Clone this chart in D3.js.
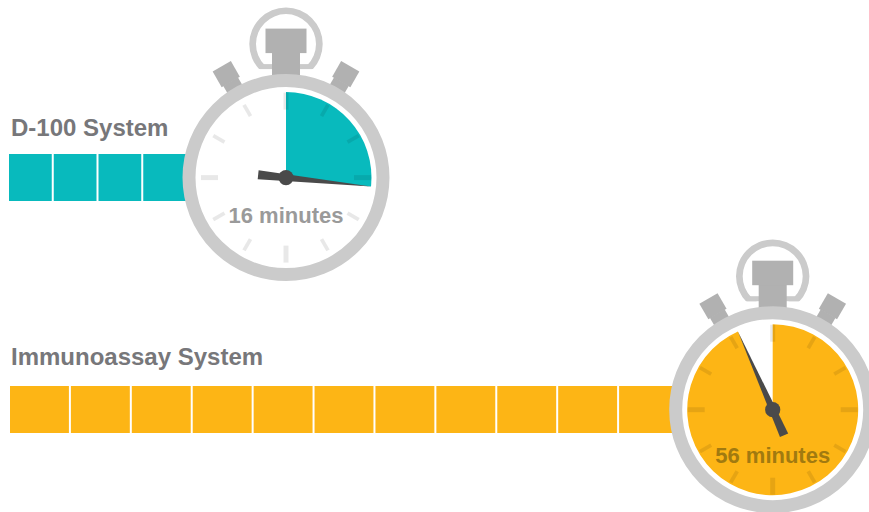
<!DOCTYPE html>
<html>
<head>
<meta charset="utf-8">
<script src="https://cdn.jsdelivr.net/npm/d3@7"></script>
<style>
	html, body { margin: 0; padding: 0; background: #fff; }
	svg { display: block; }
	text { font-family: "Liberation Sans", Arial, sans-serif; font-weight: bold; }
</style>
</head>
<body>
<svg id="chart" width="869" height="512"></svg>
<script>
// values
const systems = ["D-100 System", "Immunoassay System"];
const minutes = [16, 56];
const blockCounts = [4, 11];
const minuteLabels = ["16 minutes", "56 minutes"];
const fillColors = ["#08babd", "#fdb515"];
const labelColors = ["#9a9a9a", "#a17a10"];

// layout per row
const rows = [
	{ textX: 11, textY: 136, barX: [9, 188], barY: 154, barH: 47, cx: 286, cy: 177.6, labelDy: 45.5 },
	{ textX: 11, textY: 365, barX: [10, 680], barY: 386, barH: 47, cx: 772.7, cy: 409.7, labelDy: 53.5 }
];

const svg = d3.select("#chart");
const RING = "#cbcbcb", STEEL = "#b1b1b1", HAND = "#4a4a4a";

// minutes round the dial
const angle = d3.scaleLinear().domain([0, 60]).range([0, 2 * Math.PI]);
const degrees = m => angle(m) * 180 / Math.PI;

const wedge = d3.arc().innerRadius(0).outerRadius(85.5).startAngle(0);
const ringArc = d3.arc().innerRadius(30).outerRadius(36.7).startAngle(0).endAngle(2 * Math.PI);
const outline = d3.line();

systems.forEach((name, i) => {
	const row = rows[i];

	svg.append("text")
		.attr("x", row.textX)
		.attr("y", row.textY)
		.attr("font-size", 24)
		.attr("fill", "#77777a")
		.text(name);

	// bar of blocks, runs in under the watch
	const x = d3.scaleLinear().domain([0, blockCounts[i]]).range(row.barX);
	svg.append("g").selectAll("rect")
		.data(d3.range(blockCounts[i]))
		.enter()
		.append("rect")
		.attr("x", d => x(d))
		.attr("y", row.barY)
		.attr("width", d => x(d + 1) - x(d) - 2)
		.attr("height", row.barH)
		.attr("fill", fillColors[i]);

	const watch = svg.append("g").attr("transform", `translate(${row.cx}, ${row.cy})`);

	// side buttons
	[-30, 30].forEach(r => {
		const b = watch.append("g").attr("transform", `rotate(${r})`).attr("fill", STEEL);
		b.append("rect").attr("x", -10.5).attr("y", -128.5).attr("width", 21).attr("height", 18);
		b.append("rect").attr("x", -8.5).attr("y", -111).attr("width", 17).attr("height", 11);
	});

	// crown, the ring is cut flat at the bottom
	const clipId = "crown-clip-" + i;
	watch.append("clipPath").attr("id", clipId)
		.append("rect").attr("x", -40).attr("y", -175).attr("width", 80).attr("height", 66.5);
	watch.append("path")
		.attr("d", ringArc())
		.attr("transform", "translate(0, -133.5)")
		.attr("clip-path", null)
		.attr("fill", RING)
		.each(function() {
			// wrap so the clip stays in watch coordinates
			const wrap = watch.append("g").attr("clip-path", `url(#${clipId})`);
			wrap.node().appendChild(this);
		});
	watch.append("rect").attr("x", -26).attr("y", -113.5).attr("width", 52).attr("height", 5).attr("fill", RING);
	watch.append("rect").attr("x", -14).attr("y", -125).attr("width", 28).attr("height", 30).attr("fill", STEEL);
	watch.append("rect").attr("x", -20.5).attr("y", -149).attr("width", 41).attr("height", 24.5).attr("fill", STEEL);

	// case and face
	watch.append("circle").attr("r", 97).attr("fill", "#fff").attr("stroke", RING).attr("stroke-width", 13);

	// elapsed time
	watch.append("path").attr("d", wedge({ endAngle: angle(minutes[i]) })).attr("fill", fillColors[i]);

	// hour ticks, the quarters are longer
	const isQuarter = d => d % 15 === 0;
	watch.append("g").selectAll("rect")
		.data(d3.range(0, 60, 5))
		.enter()
		.append("rect")
		.attr("x", d => isQuarter(d) ? -2.5 : -1.9)
		.attr("y", d => isQuarter(d) ? -85 : -84)
		.attr("width", d => isQuarter(d) ? 5 : 3.8)
		.attr("height", d => isQuarter(d) ? 17 : 13)
		.attr("transform", d => `rotate(${degrees(d)})`)
		.attr("fill", "#000")
		.attr("opacity", 0.09);

	// hand
	watch.append("path")
		.attr("d", outline([[-4.5, 28], [4.5, 28], [0, -85.5]]) + "Z")
		.attr("transform", `rotate(${degrees(minutes[i])})`)
		.attr("fill", HAND);
	watch.append("circle").attr("r", 7.6).attr("fill", HAND);

	watch.append("text")
		.attr("y", row.labelDy)
		.attr("text-anchor", "middle")
		.attr("font-size", 22)
		.attr("fill", labelColors[i])
		.text(minuteLabels[i]);
});
</script>
</body>
</html>
